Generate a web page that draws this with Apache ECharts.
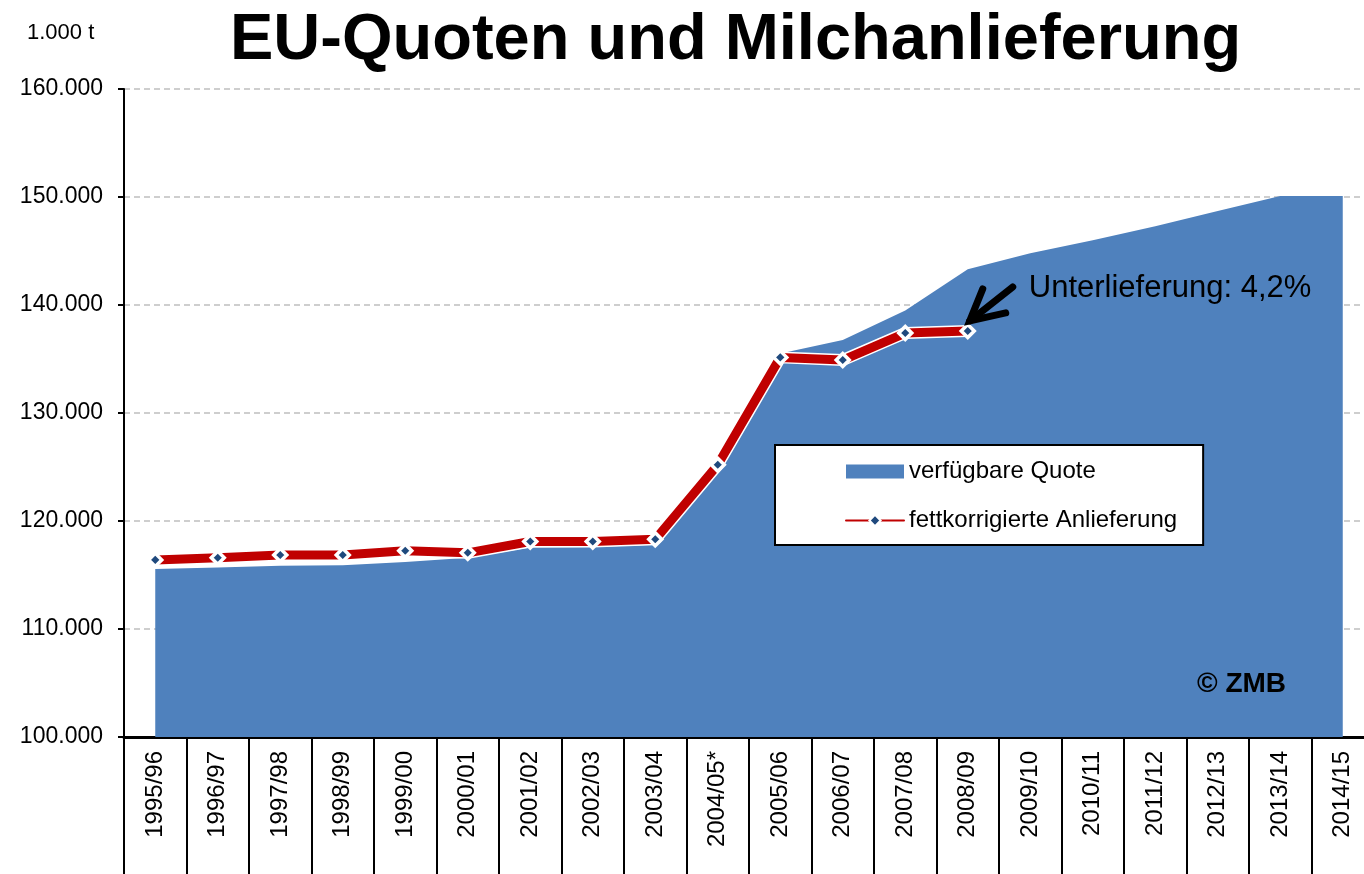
<!DOCTYPE html>
<html>
<head>
<meta charset="utf-8">
<script src="https://cdn.jsdelivr.net/npm/echarts@6/dist/echarts.min.js"></script>
<style>
html,body{margin:0;padding:0;background:#fff;overflow:hidden;width:1364px;height:874px;}
#c{width:1380px;height:874px;}
</style>
</head>
<body>
<div id="c"></div>
<script>
const categories = ['1995/96','1996/97','1997/98','1998/99','1999/00','2000/01','2001/02','2002/03','2003/04','2004/05*','2005/06','2006/07','2007/08','2008/09','2009/10','2010/11','2011/12','2012/13','2013/14','2014/15'];
const quota = [115550,115700,115850,115900,116200,116600,117550,117600,117800,124600,135500,136750,139500,143300,144800,146000,147300,148700,150100,150100];
const delivery = [116400,116600,116850,116850,117250,117050,118100,118100,118300,125200,135150,134900,137400,137600,null,null,null,null,null,null];
const yTicks = {min:100000, max:160000, interval:10000};

const ARIAL = '"Liberation Sans", Arial, sans-serif';
const fmt = v => String(v).replace(/\B(?=(\d{3})+(?!\d))/g, '.');

const chart = echarts.init(document.getElementById('c'), null, {renderer:'canvas'});
chart.setOption({
  animation:false,
  backgroundColor:'#fff',
  textStyle:{fontFamily:ARIAL},
  title:{
    text:'EU-Quoten und Milchanlieferung',
    left:225, top:4,
    textStyle:{fontFamily:ARIAL, fontSize:65, fontWeight:'bold', color:'#000'}
  },
  grid:{left:124, top:89, width:1250, height:648, containLabel:false},
  legend:{
    orient:'vertical',
    left:775, top:445,
    padding:[14,26,12,70],
    itemGap:24,
    itemWidth:58, itemHeight:14,
    backgroundColor:'#fff',
    borderColor:'#000', borderWidth:2,
    textStyle:{fontFamily:ARIAL, fontSize:24, color:'#000', lineHeight:25},
    data:[
      {name:'verfügbare Quote', icon:'rect'},
      {name:'fettkorrigierte Anlieferung'}
    ]
  },
  xAxis:{
    type:'category',
    data:categories,
    boundaryGap:true,
    axisLine:{lineStyle:{color:'#000', width:3}},
    axisTick:{show:true, interval:0, length:140, lineStyle:{color:'#000', width:2}},
    axisLabel:{interval:0, rotate:90, margin:14, fontFamily:ARIAL, fontSize:24, color:'#000'}
  },
  yAxis:{
    type:'value',
    min:yTicks.min, max:yTicks.max, interval:yTicks.interval,
    axisLine:{show:true, lineStyle:{color:'#000', width:2}},
    axisTick:{show:true, length:6, lineStyle:{color:'#000', width:2}},
    axisLabel:{formatter:fmt, margin:21, fontFamily:ARIAL, fontSize:23, color:'#000'},
    splitLine:{show:true, lineStyle:{color:'#BFBFBF', width:1.5, type:[6,4]}}
  },
  series:[
    {
      name:'verfügbare Quote',
      type:'line',
      data:quota,
      symbol:'none',
      lineStyle:{width:0, color:'#4F81BD'},
      itemStyle:{color:'#4F81BD'},
      areaStyle:{color:'#4F81BD', opacity:1},
      z:1
    },
    {
      name:'_outline',
      type:'line',
      data:delivery,
      symbol:'none',
      lineStyle:{width:12, color:'#ffffff'},
      z:2,
      silent:true
    },
    {
      name:'fettkorrigierte Anlieferung',
      type:'line',
      data:delivery,
      symbol:'diamond',
      symbolSize:13,
      showAllSymbol:true,
      lineStyle:{width:9, color:'#C00000', cap:'round', join:'round'},
      itemStyle:{color:'#1F497D', borderColor:'#ffffff', borderWidth:3.5},
      z:3
    }
  ]
});

// annotation anchored to the last delivery point
const lastIdx = delivery.findLastIndex(v => v != null);
const tip = chart.convertToPixel({gridIndex:0}, [lastIdx, delivery[lastIdx]]);
const tx = tip[0] + 2, ty = tip[1] - 10;
chart.setOption({
  graphic:[
    {type:'text', left:27, top:22, style:{text:'1.000 t', fontFamily:ARIAL, fontSize:22, fill:'#000'}},
    {type:'line', shape:{x1:tx + 43, y1:ty - 34, x2:tx, y2:ty}, style:{stroke:'#000', lineWidth:7, lineCap:'round'}, z:10},
    {type:'polyline', shape:{points:[[tx+13, ty-32],[tx, ty],[tx+36, ty-8]]}, style:{stroke:'#000', lineWidth:7, lineCap:'round', lineJoin:'miter', fill:null}, z:10},
    {type:'text', x:tip[0]+61, y:tip[1]-42, style:{text:'Unterlieferung: 4,2%', fontFamily:ARIAL, fontSize:31, fill:'#000', textVerticalAlign:'middle'}, z:10},
    {type:'text', x:1197, y:684, style:{text:'© ZMB', fontFamily:ARIAL, fontSize:28, fontWeight:'bold', fill:'#000', textVerticalAlign:'middle'}, z:10}
  ]
});
</script>
</body>
</html>
